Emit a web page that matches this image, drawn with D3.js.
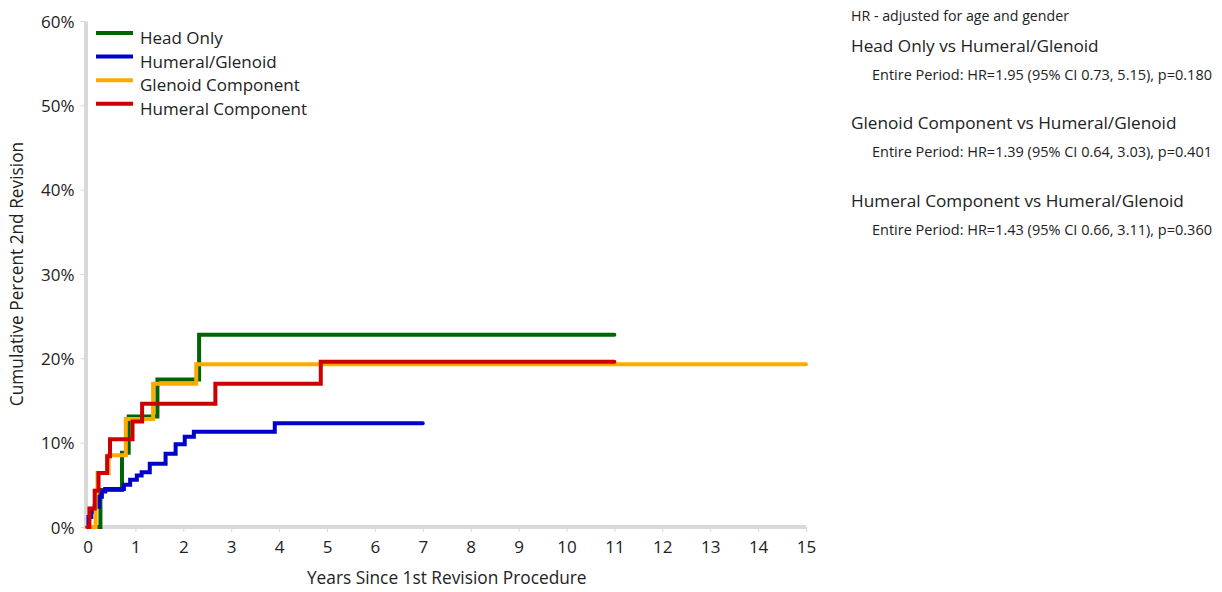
<!DOCTYPE html>
<html>
<head>
<meta charset="utf-8">
<script src="https://cdn.jsdelivr.net/npm/d3@7/dist/d3.min.js"></script>
<style>
  html, body { margin: 0; padding: 0; background: #fff; }
  svg { display: block; }
  text { font-family: "Open Sans", "Noto Sans", sans-serif; fill: #222; }
</style>
</head>
<body>
<svg id="chart" width="1222" height="592"></svg>
<script>
// ---- data ----
const seriesNames = ["Head Only", "Humeral/Glenoid", "Glenoid Component", "Humeral Component"];
const seriesColors = ["#006400", "#0000CC", "#FFAA00", "#CC0000"];

const headOnlyYears = [0, 0.27, 0.72, 0.86, 1.46, 2.33, 11.0];
const headOnlyPct   = [0, 4.4, 8.8, 13.1, 17.5, 22.8, 22.8];

const humGlenYears = [0, 0.02, 0.08, 0.15, 0.24, 0.30, 0.37, 0.76, 0.89, 1.03, 1.13, 1.30, 1.63, 1.84, 2.03, 2.22, 3.91, 7.0];
const humGlenPct   = [0, 1.2, 1.8, 2.4, 3.6, 4.2, 4.5, 5.0, 5.6, 6.1, 6.5, 7.5, 8.7, 9.8, 10.7, 11.3, 12.3, 12.3];

const glenCompYears = [0, 0.17, 0.21, 0.44, 0.80, 1.37, 2.27, 15.0];
const glenCompPct   = [0, 4.3, 6.4, 8.5, 12.8, 17.0, 19.3, 19.3];

const humCompYears = [0, 0.04, 0.15, 0.23, 0.41, 0.47, 0.94, 1.14, 2.67, 4.87, 11.0];
const humCompPct   = [0, 2.2, 4.3, 6.4, 8.4, 10.4, 12.5, 14.6, 17.0, 19.6, 19.6];

const xTicks = [0,1,2,3,4,5,6,7,8,9,10,11,12,13,14,15];
const yTicks = [0,10,20,30,40,50,60];

const yAxisTitle = "Cumulative Percent 2nd Revision";
const xAxisTitle = "Years Since 1st Revision Procedure";

const hrNote = "HR - adjusted for age and gender";
const comparisonTitles = ["Head Only vs Humeral/Glenoid", "Glenoid Component vs Humeral/Glenoid", "Humeral Component vs Humeral/Glenoid"];
const comparisonStats = [
  "Entire Period: HR=1.95 (95% CI 0.73, 5.15), p=0.180",
  "Entire Period: HR=1.39 (95% CI 0.64, 3.03), p=0.401",
  "Entire Period: HR=1.43 (95% CI 0.66, 3.11), p=0.360"
];

// ---- build ----
const series = [
  {name: seriesNames[0], color: seriesColors[0], xs: headOnlyYears, ys: headOnlyPct},
  {name: seriesNames[1], color: seriesColors[1], xs: humGlenYears, ys: humGlenPct},
  {name: seriesNames[2], color: seriesColors[2], xs: glenCompYears, ys: glenCompPct},
  {name: seriesNames[3], color: seriesColors[3], xs: humCompYears, ys: humCompPct}
];

const svg = d3.select("#chart");
const x = d3.scaleLinear().domain([0, 15]).range([87.5, 806]);
const y = d3.scaleLinear().domain([0, 60]).range([527, 21]);

const axisColor = "#d9d9d9";

// y axis
const yAxis = svg.append("g").attr("transform", "translate(85.5,0)")
  .call(d3.axisLeft(y).tickValues(yTicks).tickFormat(d => d + "%").tickSize(5).tickSizeOuter(0));
yAxis.select(".domain").attr("stroke", axisColor).attr("stroke-width", 4);
yAxis.selectAll(".tick line").attr("stroke", axisColor).attr("stroke-width", 1);
yAxis.selectAll(".tick text").attr("x", -11).attr("dy", "0.36em")
  .style("font-size", "17px").style("fill", "#222");

// x axis
const xAxis = svg.append("g").attr("transform", "translate(0,527)")
  .call(d3.axisBottom(x).tickValues(xTicks).tickFormat(d3.format("d")).tickSize(5).tickSizeOuter(0));
xAxis.select(".domain").attr("stroke", axisColor).attr("stroke-width", 4).attr("d", `M83.5,0H${x(15)}`);
xAxis.selectAll(".tick line").attr("stroke", axisColor).attr("stroke-width", 1);
xAxis.selectAll(".tick text").attr("y", 14).attr("dy", "0.71em")
  .style("font-size", "17px").style("fill", "#222");

// axis titles
svg.append("text").attr("transform", `translate(23,${(y(0)+y(60))/2}) rotate(-90)`)
  .attr("text-anchor", "middle").style("font-size", "17.3px").text(yAxisTitle);
svg.append("text").attr("x", (x(0)+x(15))/2).attr("y", 584)
  .attr("text-anchor", "middle").style("font-size", "17.3px").text(xAxisTitle);

// lines
const line = d3.line().x(d => x(d[0])).y(d => y(d[1])).curve(d3.curveStepAfter);
series.forEach(s => {
  const pts = s.xs.map((t, i) => [t, s.ys[i]]);
  svg.append("path").datum(pts).attr("d", line)
    .attr("fill", "none").attr("stroke", s.color).attr("stroke-width", 4)
    .attr("stroke-linejoin", "miter").attr("stroke-linecap", "round");
});

// legend
const legend = svg.append("g");
series.forEach((s, i) => {
  const ly = 33 + i * 23.6;
  legend.append("line").attr("x1", 96).attr("x2", 133).attr("y1", ly).attr("y2", ly)
    .attr("stroke", s.color).attr("stroke-width", 4);
  legend.append("text").attr("x", 140).attr("y", ly + 11).style("font-size", "17px").text(s.name);
});

// HR annotations
svg.append("text").attr("x", 851).attr("y", 20.5).style("font-size", "14.2px").text(hrNote);
comparisonTitles.forEach((t, i) => {
  const base = 51.5 + i * 77.5;
  svg.append("text").attr("x", 851).attr("y", base).style("font-size", "17.2px").text(t);
  svg.append("text").attr("x", 872).attr("y", base + 28).style("font-size", "14.5px").text(comparisonStats[i]);
});
</script>
</body>
</html>
